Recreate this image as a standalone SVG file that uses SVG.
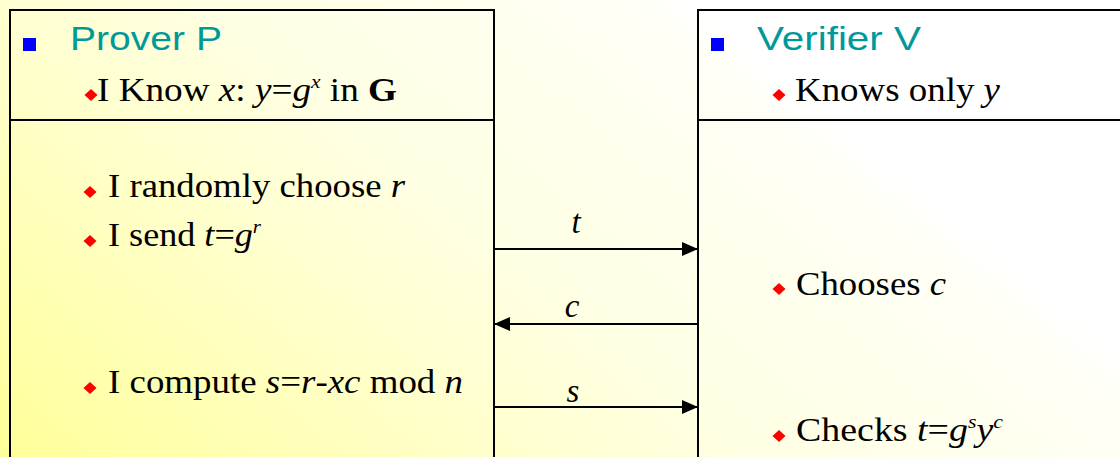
<svg xmlns="http://www.w3.org/2000/svg" width="1120" height="457" viewBox="0 0 1120 457">
  <defs>
    <linearGradient id="bg" gradientUnits="userSpaceOnUse" x1="0" y1="457" x2="560" y2="-220">
      <stop offset="0" stop-color="#FFFF99"/>
      <stop offset="0.3" stop-color="#FFFFC4"/>
      <stop offset="0.55" stop-color="#FFFFE4"/>
      <stop offset="0.85" stop-color="#FFFFF6"/>
      <stop offset="0.9" stop-color="#FFFFFF"/>
    </linearGradient>
    <marker id="ah" markerWidth="16" markerHeight="14" refX="15" refY="7" orient="auto" markerUnits="userSpaceOnUse">
      <path d="M0,0 L16,7 L0,14 Z" fill="#000"/>
    </marker>
  </defs>
  <style>
    .box { fill: none; stroke: #000; stroke-width: 2; }
    .title { font-family: "Liberation Sans", Arial, sans-serif; font-size: 33px; fill: #009999; }
    .t { font-family: "Liberation Serif", "Times New Roman", serif; font-size: 33px; fill: #000; }
    .i { font-style: italic; }
    .sup { font-size: 19px; }
    .sq { fill: #0000FF; }
    .dm { fill: #FF0000; }
    .conn { stroke: #000; stroke-width: 2; fill: none; marker-end: url(#ah); }
    .lbl { font-family: "Liberation Serif", "Times New Roman", serif; font-size: 33px; font-style: italic; fill: #000; text-anchor: middle; }
  </style>
  <rect x="0" y="0" width="1120" height="457" fill="url(#bg)"/>

  <g id="prover">
    <rect class="box" x="10" y="10" width="484" height="460"/>
    <line class="box" x1="10" y1="120" x2="494" y2="120"/>
    <rect class="sq" x="23" y="38" width="13" height="13"/>
    <text class="title" x="70" y="50" textLength="152" lengthAdjust="spacingAndGlyphs">Prover P</text>
    <path class="dm" d="M91,89 L97.5,95 L91,101 L84.5,95 Z"/>
    <text class="t" x="97" y="101" textLength="300" lengthAdjust="spacingAndGlyphs">I Know <tspan class="i">x</tspan>: <tspan class="i">y</tspan>=<tspan class="i">g</tspan><tspan class="i sup" dy="-13">x</tspan><tspan dy="13"> in </tspan><tspan font-weight="bold">G</tspan></text>
    <path class="dm" d="M90,186 L96.5,192 L90,198 L83.5,192 Z"/>
    <text class="t" x="108" y="197" textLength="297" lengthAdjust="spacingAndGlyphs">I randomly choose <tspan class="i">r</tspan></text>
    <path class="dm" d="M90,235 L96.5,241 L90,247 L83.5,241 Z"/>
    <text class="t" x="108" y="246" textLength="153" lengthAdjust="spacingAndGlyphs">I send <tspan class="i">t</tspan>=<tspan class="i">g</tspan><tspan class="i sup" dy="-13">r</tspan></text>
    <path class="dm" d="M90,382 L96.5,388 L90,394 L83.5,388 Z"/>
    <text class="t" x="108" y="393" textLength="355" lengthAdjust="spacingAndGlyphs">I compute <tspan class="i">s</tspan>=<tspan class="i">r</tspan>-<tspan class="i">xc</tspan> mod <tspan class="i">n</tspan></text>
  </g>

  <g id="verifier">
    <rect class="box" x="698" y="10" width="440" height="460"/>
    <line class="box" x1="698" y1="120" x2="1120" y2="120"/>
    <rect class="sq" x="711" y="38" width="13" height="13"/>
    <text class="title" x="757" y="50" textLength="164" lengthAdjust="spacingAndGlyphs">Verifier V</text>
    <path class="dm" d="M779,89 L785.5,95 L779,101 L772.5,95 Z"/>
    <text class="t" x="795" y="101" textLength="205" lengthAdjust="spacingAndGlyphs">Knows only <tspan class="i">y</tspan></text>
    <path class="dm" d="M779,283 L785.5,289 L779,295 L772.5,289 Z"/>
    <text class="t" x="796" y="295" textLength="150" lengthAdjust="spacingAndGlyphs">Chooses <tspan class="i">c</tspan></text>
    <path class="dm" d="M779,430 L785.5,436 L779,442 L772.5,436 Z"/>
    <text class="t" x="796" y="441" textLength="207" lengthAdjust="spacingAndGlyphs">Checks <tspan class="i">t</tspan>=<tspan class="i">g</tspan><tspan class="i sup" dy="-13">s</tspan><tspan class="i" dy="13">y</tspan><tspan class="i sup" dy="-13">c</tspan></text>
  </g>

  <g id="connectors">
    <line class="conn" x1="494" y1="249" x2="697" y2="249"/>
    <text class="lbl" x="576" y="233">t</text>
    <line class="conn" x1="697" y1="324" x2="495" y2="324"/>
    <text class="lbl" x="572" y="317">c</text>
    <line class="conn" x1="494" y1="407" x2="697" y2="407"/>
    <text class="lbl" x="573" y="402">s</text>
  </g>
</svg>
